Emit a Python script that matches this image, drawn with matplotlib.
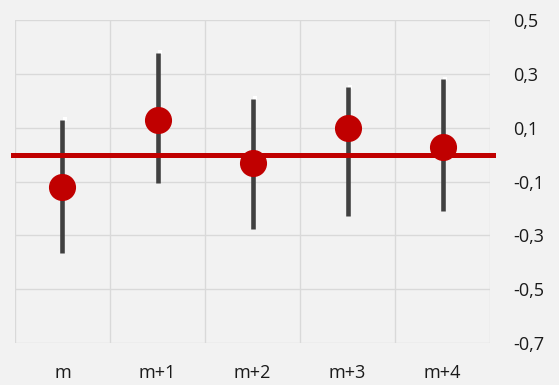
import matplotlib.pyplot as plt
from matplotlib.ticker import FixedLocator, FuncFormatter
from matplotlib.transforms import offset_copy

plt.rcParams['font.family'] = ['Open Sans', 'DejaVu Sans']

# Data
categories = ['m', 'm+1', 'm+2', 'm+3', 'm+4']
point_est = [-0.120, 0.128, -0.030, 0.100, 0.029]
ci_low = [-0.367, -0.107, -0.278, -0.229, -0.209]
ci_high = [0.128, 0.378, 0.207, 0.250, 0.280]
y_ticks = [0.5, 0.3, 0.1, -0.1, -0.3, -0.5, -0.7]

bg = '#f2f2f2'
grid_col = '#d9d9d9'

fig = plt.figure(figsize=(5.59, 3.85), dpi=100, facecolor=bg)
ax = fig.add_axes([0.0268, 0.109, 0.85, 0.839])
ax.set_facecolor(bg)

x = list(range(len(categories)))

# grid: horizontal at ticks, vertical between categories
for y in y_ticks:
    ax.axhline(y, color=grid_col, lw=1.0, zorder=0)
for xb in [i - 0.5 for i in range(len(categories) + 1)]:
    ax.axvline(xb, color=grid_col, lw=1.0, zorder=0)

# small white highlight at the top of each range line
hl = offset_copy(ax.transData, fig=fig, x=1.5, y=0.5, units='points')
ax.scatter(x, ci_high, marker='s', s=9, color='white', lw=0, transform=hl, zorder=2)

# range lines
ax.vlines(x, ci_low, ci_high, color='#404040', lw=3.3, zorder=3)

# zero line
ax.axhline(0, xmin=-0.005, xmax=1.005, color='#c00000', lw=3.6, zorder=4, clip_on=False)

# point estimates
ax.plot(x, point_est, 'o', ms=18.5, color='#c00000', mec='#c00000', zorder=5)

ax.set_xlim(-0.5, len(categories) - 0.5)
ax.set_ylim(-0.7, 0.5)
ax.set_xticks(x)
ax.set_xticklabels(categories)
ax.yaxis.tick_right()
ax.yaxis.set_major_locator(FixedLocator(y_ticks))
ax.yaxis.set_major_formatter(FuncFormatter(lambda v, p: f'{v:.1f}'.replace('.', ',')))
ax.tick_params(axis='both', length=0, labelsize=13, colors='#1a1a1a')
ax.tick_params(axis='y', pad=16.5)
ax.tick_params(axis='x', pad=15)
for lbl in ax.get_yticklabels():
    lbl.set_horizontalalignment('left')
for s in ax.spines.values():
    s.set_visible(False)

fig.savefig('out.png', dpi=100, facecolor=bg)
